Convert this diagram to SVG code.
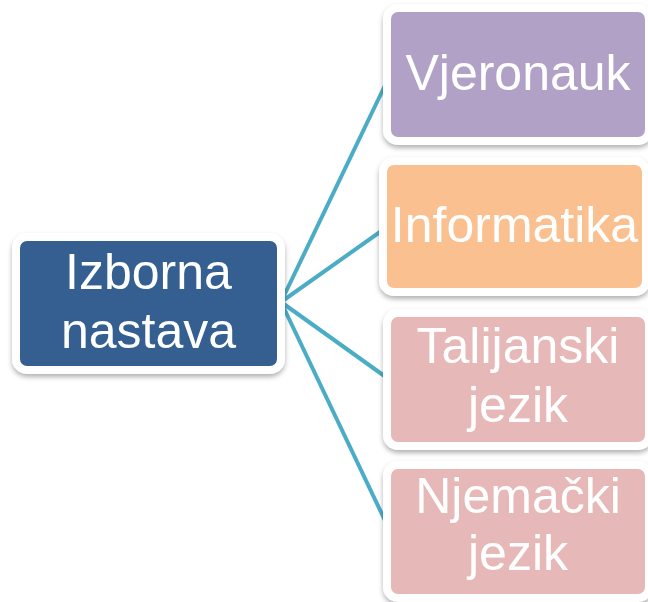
<svg xmlns="http://www.w3.org/2000/svg" width="648" height="602" viewBox="0 0 648 602">
<defs>
<filter id="sh" x="-10%" y="-10%" width="120%" height="130%">
<feDropShadow dx="0" dy="3" stdDeviation="2.5" flood-color="#000" flood-opacity="0.3"/>
</filter>
<style>
.box{stroke:#fff;stroke-width:8;filter:url(#sh)}
.lbl{font-family:"Liberation Sans",Arial,sans-serif;font-size:50px;fill:#fff;text-anchor:middle}
.conn{stroke:#4BACC6;stroke-width:4;fill:none}
</style>
</defs>
<rect width="648" height="602" fill="#fff"/>
<g id="connectors">
<line class="conn" x1="281" y1="302" x2="390" y2="75"/>
<line class="conn" x1="281" y1="302" x2="387" y2="227"/>
<line class="conn" x1="281" y1="302" x2="390" y2="380"/>
<line class="conn" x1="281" y1="302" x2="390" y2="531"/>
</g>
<g id="root">
<rect class="box" x="16" y="237" width="265" height="133" rx="11" fill="#365F91"/>
<text class="lbl" x="148.5" y="289">Izborna</text>
<text class="lbl" x="148.5" y="348">nastava</text>
</g>
<g id="vjeronauk">
<rect class="box" x="387" y="8" width="262" height="133" rx="11" fill="#B2A1C7"/>
<text class="lbl" x="518" y="90">Vjeronauk</text>
</g>
<g id="informatika">
<rect class="box" x="383" y="161" width="263" height="131" rx="11" fill="#FAC090"/>
<text class="lbl" x="514.5" y="242">Informatika</text>
</g>
<g id="talijanski">
<rect class="box" x="387" y="313" width="262" height="133" rx="11" fill="#E6B9B8"/>
<text class="lbl" x="518" y="363">Talijanski</text>
<text class="lbl" x="518" y="422">jezik</text>
</g>
<g id="njemacki">
<rect class="box" x="387" y="465" width="262" height="133" rx="11" fill="#E6B9B8"/>
<text class="lbl" x="518" y="513">Njemački</text>
<text class="lbl" x="518" y="570">jezik</text>
</g>
</svg>
